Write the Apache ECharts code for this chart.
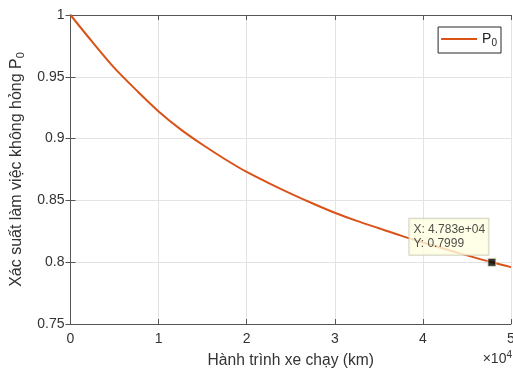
<!DOCTYPE html>
<html>
<head>
<meta charset="utf-8">
<script src="https://cdn.jsdelivr.net/npm/echarts@6/dist/echarts.min.js"></script>
<style>html,body{margin:0;padding:0;background:#fff}#c{width:513px;height:370px}</style>
</head>
<body>
<div id="c"></div>
<script>
// Data
var distanceKm = [0, 2500, 5000, 7500, 10000, 12500, 15000, 17500, 20000, 22500, 25000, 27500, 30000, 32500, 35000, 37500, 40000, 42500, 45000, 47830, 50000];
var p0Values   = [1.0, 0.978, 0.957, 0.939, 0.922, 0.9075, 0.895, 0.8835, 0.873, 0.864, 0.8555, 0.8475, 0.840, 0.8334, 0.8275, 0.8215, 0.816, 0.8107, 0.8055, 0.7999, 0.796];
var tipX = [47830];
var tipY = [0.7999];
var yTicks = [0.75, 0.8, 0.85, 0.9, 0.95, 1];
var xTickLabels = ['0', '1', '2', '3', '4', '5'];

var lineColor = '#D95319';
var textColor = '#333';
var axisColor = '#555';
var gridColor = '#e3e3e3';

var chart = echarts.init(document.getElementById('c'), null, {renderer: 'canvas'});

var common = {
  axisLine: {show: true, lineStyle: {color: axisColor, width: 1}},
  axisTick: {show: true, inside: true, length: 5, lineStyle: {color: axisColor}},
};

var option = {
  animation: false,
  backgroundColor: '#fff',
  textStyle: {fontFamily: 'Liberation Sans, Arial, sans-serif'},
  grid: {left: 70.5, right: 2, top: 15, bottom: 46, containLabel: false, outerBoundsMode: 'none'},
  legend: {
    right: 12, top: 27,
    data: ['P0'],
    icon: 'rect', itemWidth: 36, itemHeight: 2, itemGap: 2,
    padding: [5, 4, 5, 3],
    borderColor: '#262626', borderWidth: 1, backgroundColor: '#fff',
    formatter: function () { return 'P{sub|0}'; },
    textStyle: {
      color: '#222', fontSize: 14, padding: [0, 0, 0, 0],
      rich: {sub: {fontSize: 10, verticalAlign: 'bottom', padding: [8, 0, 0, 0], color: '#222'}}
    }
  },
  xAxis: [
    Object.assign({
      type: 'value', min: 0, max: 50000, interval: 10000,
      name: 'Hành trình xe chạy (km)', nameLocation: 'middle', nameGap: 29,
      nameTextStyle: {color: textColor, fontSize: 15.6},
      axisLabel: {color: textColor, fontSize: 14, margin: 8,
        formatter: function (v) { return xTickLabels[Math.round(v / 10000)]; }},
      splitLine: {show: true, lineStyle: {color: gridColor}}
    }, common),
    Object.assign({
      type: 'value', position: 'top', min: 0, max: 50000, interval: 10000,
      axisLabel: {show: false}, splitLine: {show: false}
    }, common)
  ],
  yAxis: [
    Object.assign({
      type: 'value', min: 0.75, max: 1, interval: 0.05,
      name: 'Xác suất làm việc không hỏng P{sub|0}', nameLocation: 'middle', nameGap: 44,
      nameTextStyle: {color: textColor, fontSize: 16,
        rich: {sub: {fontSize: 11, color: textColor, verticalAlign: 'bottom', padding: [8, 0, 0, 0]}}},
      axisLabel: {color: textColor, fontSize: 14, margin: 6,
        formatter: function (v) {
          var r = Math.round(v * 100) / 100;
          return yTicks.indexOf(r) >= 0 ? String(r) : '';
        }},
      splitLine: {show: true, lineStyle: {color: gridColor}}
    }, common),
    Object.assign({
      type: 'value', position: 'right', min: 0.75, max: 1, interval: 0.05,
      axisLabel: {show: false}, splitLine: {show: false}
    }, common)
  ],
  series: [
    {
      name: 'P0', type: 'line', smooth: 0.3, showSymbol: false,
      lineStyle: {color: lineColor, width: 2}, itemStyle: {color: lineColor},
      data: distanceKm.map(function (x, i) { return [x, p0Values[i]]; }),
      z: 3
    },
    {
      name: 'datatip', type: 'scatter', symbol: 'rect', symbolSize: 8,
      itemStyle: {color: '#000', borderColor: '#e8e8c0', borderWidth: 1},
      data: tipX.map(function (x, i) { return [x, tipY[i]]; }),
      z: 5,
      label: {
        show: true,
        position: [-78, -39], align: 'left', verticalAlign: 'top',
        formatter: function (p) {
          return 'X: ' + (p.value[0] / 10000).toFixed(3) + 'e+04\nY: ' + p.value[1].toFixed(4);
        },
        color: '#222', fontSize: 12, lineHeight: 14,
        backgroundColor: '#ffffe1', borderColor: '#c8c8b4', borderWidth: 1,
        padding: [4, 7, 4, 4], width: 68
      }
    }
  ],
  graphic: [
    {
      type: 'text', right: 1, top: 350,
      style: {
        text: '×10{sup|4}', fill: textColor, fontSize: 14,
        fontFamily: 'Liberation Sans, Arial, sans-serif',
        rich: {sup: {fontSize: 10, verticalAlign: 'top', padding: [0, 0, 8, 0], fill: textColor}}
      }
    }
  ]
};
chart.setOption(option);
</script>
</body>
</html>
